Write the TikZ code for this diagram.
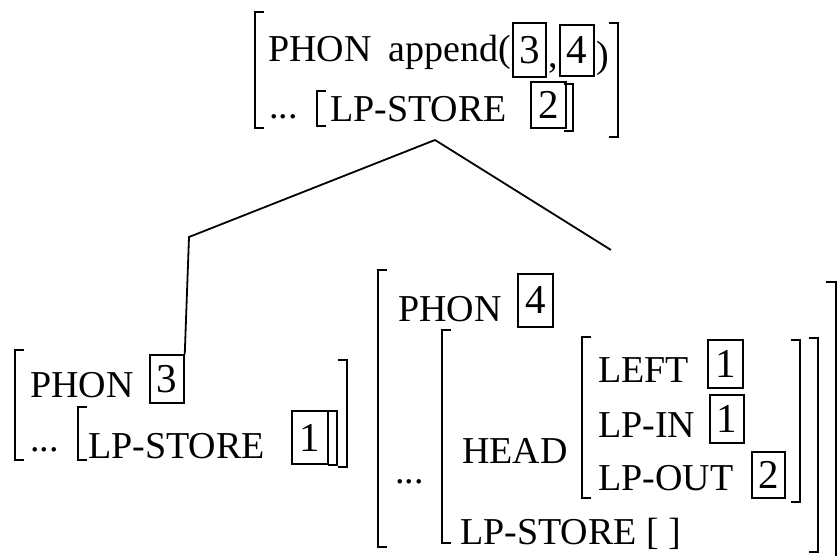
\documentclass[tikz,border=0pt]{standalone}
\usepackage{fontspec}
\setmainfont{Liberation Serif}
\newcommand{\LBrk}[3]{\draw[brk] (#1+9,#2) -- (#1,#2) -- (#1,#3) -- (#1+9,#3);}
\newcommand{\RBrk}[3]{\draw[brk] (#1-9,#2) -- (#1,#2) -- (#1,#3) -- (#1-9,#3);}
\begin{document}
\begin{tikzpicture}[x=1pt,y=-1pt,
  brk/.style={line width=2pt},
  tbox/.style={draw,line width=1.5pt,minimum width=34pt,minimum height=50pt,inner sep=0pt,font=\fontsize{41}{44}\selectfont},
  lbl/.style={anchor=base west,inner sep=0pt},
  edge/.style={line width=1.8pt},
  font=\fontsize{38}{44}\selectfont]
\path[use as bounding box,fill=white] (0,0) rectangle (837,556);

% ---------- top AVM ----------
\LBrk{255}{12}{128}
\RBrk{618}{23}{137}
\node[lbl] (tphon) at (268,62) {PHON};
\node[anchor=base east,inner sep=0pt] (tapp) at (511,62) {append(};
\node[tbox,minimum width=33pt,minimum height=54pt] (tb3) at (529.5,50) {3};
\node[lbl] (tcomma) at (548,68) {,};
\node[tbox,minimum width=34pt,minimum height=51pt] (tb4) at (577,50.5) {4};
\node[lbl] (tparen) at (596,68) {)};
\node[lbl] (tdots) at (269,119) {...};
\LBrk{317}{91}{126}
\node[lbl] (tstore) at (330,122) {LP-STORE};
\node[tbox,minimum width=35pt,minimum height=46pt] (tb2) at (548.5,105) {2};
\RBrk{573}{84}{131}

% ---------- left AVM ----------
\LBrk{15}{350}{460}
\RBrk{347}{360}{467}
\node[lbl] (lphon) at (30,397) {PHON};
\node[tbox,minimum width=34pt,minimum height=48pt] (lb3) at (167,379) {3};
\node[lbl] (ldots) at (30,451) {...};
\LBrk{78}{407}{460}
\node[lbl] (lstore) at (88,458) {LP-STORE};
\node[tbox,minimum width=36pt,minimum height=53pt] (lb1) at (310,437.5) {1};
\RBrk{337}{411}{465}

% ---------- right AVM ----------
\LBrk{378}{270}{547}
\draw[brk] (826,282) -- (836,282) -- (836,560);
\node[lbl] (rphon) at (398,321) {PHON};
\node[tbox,minimum width=35pt,minimum height=53pt] (rb4) at (535.5,300.5) {4};
\LBrk{442}{330}{543}
\RBrk{818}{338}{552}
\node[lbl] (rdots) at (395,483) {...};
\node[lbl] (rhead) at (462,463) {HEAD};
\node[lbl] (rstore) at (460,544) {LP-STORE [ ]};
\LBrk{582}{337}{498}
\RBrk{800}{340}{502}
\node[lbl] (rleft) at (598,382) {LEFT};
\node[tbox,minimum width=35pt,minimum height=48pt] (rl1) at (725.5,364) {1};
\node[lbl] (rin) at (598,437) {LP-IN};
\node[tbox,minimum width=34pt,minimum height=48pt] (ri1) at (727,419) {1};
\node[lbl] (rout) at (598,490) {LP-OUT};
\node[tbox,minimum width=33pt,minimum height=46pt] (ro2) at (768.5,475) {2};

% ---------- tree ----------
\coordinate (apex) at (435,140);
\coordinate (lcorner) at (189,237);
\coordinate (rend) at (611,250);
\draw[edge] (apex) -- (lcorner) -- (lb3.north east);
\draw[edge] (apex) -- (rend);
\end{tikzpicture}
\end{document}
